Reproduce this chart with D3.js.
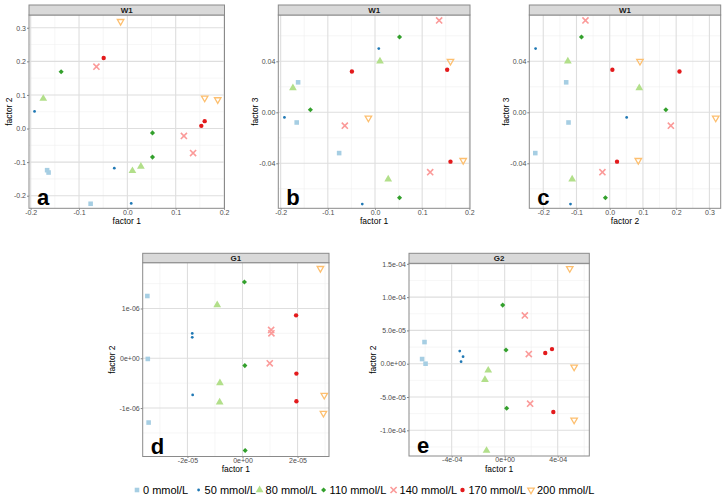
<!DOCTYPE html>
<html>
<head>
<meta charset="utf-8">
<script src="https://d3js.org/d3.v7.min.js"></script>
<style>
  body { margin: 0; background: #fff; }
  svg { font-family: "Liberation Sans", Arial, sans-serif; }
  .tick-label { font-size: 7px; fill: #4d4d4d; }
  .axis-title { font-size: 8.5px; fill: #000; }
  .strip-text { font-size: 8px; fill: #1a1a1a; font-weight: bold; }
  .panel-tag { font-size: 22px; font-weight: bold; fill: #000; }
  .legend-text { font-size: 11px; fill: #000; }
</style>
</head>
<body>
<div id="chart"></div>
<script>
const groups = ['0 mmol/L', '50 mmol/L', '80 mmol/L', '110 mmol/L', '140 mmol/L', '170 mmol/L', '200 mmol/L'];
const colors = ['#A6CEE3', '#1F78B4', '#B2DF8A', '#33A02C', '#FB9A99', '#E31A1C', '#FDBF6F'];
// three samples per group, in group order
const sampleGroup = [0,0,0, 1,1,1, 2,2,2, 3,3,3, 4,4,4, 5,5,5, 6,6,6];

const w1F1 = [-0.163, -0.166, -0.076,  -0.192, -0.027, 0.008,  -0.174, 0.0105, 0.028,
              -0.137, 0.052, 0.052,  -0.064, 0.117, 0.136,  -0.049, 0.153, 0.160,  -0.014, 0.160, 0.187];
const w1F2 = [-0.131, -0.124, -0.224,  0.051, -0.118, -0.223,  0.089, -0.126, -0.113,
              0.169, -0.013, -0.085,  0.184, -0.022, -0.073,  0.210, 0.008, 0.022,  0.319, 0.091, 0.086];
const w1F3 = [0.0235, -0.008, -0.032,  -0.004, -0.072, 0.050,  0.019, 0.040, -0.0525,
              0.002, -0.067, 0.059,  -0.0105, -0.047, 0.072,  0.032, 0.0334, -0.0387,  -0.0045, 0.040, -0.0377];

const g1F1 = [-3.456e-5, -3.44e-5, -3.41e-5,  -1.825e-5, -1.825e-5, -1.81e-5,  -0.918e-5, -0.82e-5, -0.83e-5,
              0.07e-5, 0.085e-5, 0.097e-5,  1.04e-5, 1.05e-5, 0.99e-5,  1.946e-5, 1.958e-5, 1.958e-5,  2.83e-5, 2.97e-5, 2.94e-5];
const g1F2 = [1.251e-6, -0.013e-6, -1.291e-6,  0.50e-6, 0.42e-6, -0.736e-6,  1.07e-6, -0.495e-6, -0.883e-6,
              1.532e-6, -0.147e-6, -1.853e-6,  0.569e-6, 0.502e-6, -0.10e-6,  0.863e-6, -0.308e-6, -0.863e-6,  1.806e-6, -0.742e-6, -1.104e-6];

const g2F1 = [-6.05e-4, -6.23e-4, -5.97e-4,  -3.39e-4, -3.14e-4, -3.29e-4,  -1.24e-4, -1.49e-4, -1.37e-4,
              -0.15e-4, 0.10e-4, 0.15e-4,  1.52e-4, 1.82e-4, 1.92e-4,  3.06e-4, 3.57e-4, 3.67e-4,  4.91e-4, 5.24e-4, 5.24e-4];
const g2F2 = [3.25e-5, 0.7e-5, 0.0,  1.9e-5, 1.05e-5, 0.3e-5,  -1.0e-5, -2.4e-5, -13.05e-5,
              8.8e-5, 2.05e-5, -6.7e-5,  7.25e-5, 1.45e-5, -6.0e-5,  1.6e-5, 2.2e-5, -7.25e-5,  14.3e-5, -0.5e-5, -8.45e-5];

const ticksW1F1 = [-0.2, -0.1, 0.0, 0.1, 0.2];
const ticksW1F2y = [-0.2, -0.1, 0.0, 0.1, 0.2, 0.3];
const ticksW1F2x = [-0.2, -0.1, 0.0, 0.1, 0.2, 0.3];
const ticksW1F3 = [-0.04, 0.00, 0.04];
const ticksG1F1 = [-2e-5, 0, 2e-5];
const labelsG1F1 = ['-2e-05', '0e+00', '2e-05'];
const ticksG1F2 = [-1e-6, 0, 1e-6];
const labelsG1F2 = ['-1e-06', '0e+00', '1e-06'];
const ticksG2F1 = [-4e-4, 0, 4e-4];
const labelsG2F1 = ['-4e-04', '0e+00', '4e-04'];
const ticksG2F2 = [-1e-4, -5e-5, 0, 5e-5, 1e-4, 1.5e-4];
const labelsG2F2 = ['-1.0e-04', '-5.0e-05', '0.0e+00', '5.0e-05', '1.0e-04', '1.5e-04'];

const svg = d3.select('#chart').append('svg')
  .attr('width', 726).attr('height', 498);

function symbolFor(g) {
  const s = [
    d3.symbol(d3.symbolSquare, 21),
    d3.symbol(d3.symbolCircle, 6),
    d3.symbol(d3.symbolTriangle, 26),
    d3.symbol(d3.symbolSquare, 13),
    d3.symbol(d3.symbolTimes, 26),
    d3.symbol(d3.symbolCircle, 15),
    d3.symbol(d3.symbolTriangle2, 30)
  ];
  return s[g]();
}
function markTransform(g, px, py) {
  let t = `translate(${px},${py})`;
  if (g === 3) t += ' rotate(45)';
  if (g === 6) t += ' rotate(180)';
  return t;
}
function styleMark(sel, g) {
  if (g === 4 || g === 6) {
    sel.attr('fill', 'none').attr('stroke', colors[g]).attr('stroke-width', g === 4 ? 1.6 : 1.3);
  } else {
    sel.attr('fill', colors[g]).attr('stroke', 'none');
  }
}

function minors(ticks) {
  const step = ticks[1] - ticks[0];
  const out = [];
  for (let i = -1; i < ticks.length; i++) out.push(ticks[0] + (i + 0.5) * step);
  return out;
}

function drawPanel(p) {
  const x = d3.scaleLinear().domain(p.xDomain).range([p.left, p.right]);
  const y = d3.scaleLinear().domain(p.yDomain).range([p.bottom, p.top]);
  const g = svg.append('g');

  g.append('rect').attr('x', p.left).attr('y', p.top)
    .attr('width', p.right - p.left).attr('height', p.bottom - p.top).attr('fill', '#fff');

  const inX = v => x(v) > p.left && x(v) < p.right;
  const inY = v => y(v) > p.top && y(v) < p.bottom;

  g.selectAll('.mx').data(minors(p.xTicks).filter(inX)).enter().append('line')
    .attr('x1', d => x(d)).attr('x2', d => x(d)).attr('y1', p.top).attr('y2', p.bottom)
    .attr('stroke', '#f0f0f0').attr('stroke-width', 0.6);
  g.selectAll('.my').data(minors(p.yTicks).filter(inY)).enter().append('line')
    .attr('y1', d => y(d)).attr('y2', d => y(d)).attr('x1', p.left).attr('x2', p.right)
    .attr('stroke', '#f0f0f0').attr('stroke-width', 0.6);
  g.selectAll('.gx').data(p.xTicks.filter(inX)).enter().append('line')
    .attr('x1', d => x(d)).attr('x2', d => x(d)).attr('y1', p.top).attr('y2', p.bottom)
    .attr('stroke', '#dedede').attr('stroke-width', 1.1);
  g.selectAll('.gy').data(p.yTicks.filter(inY)).enter().append('line')
    .attr('y1', d => y(d)).attr('y2', d => y(d)).attr('x1', p.left).attr('x2', p.right)
    .attr('stroke', '#dedede').attr('stroke-width', 1.1);

  // axes
  const xAxis = d3.axisBottom(x).tickValues(p.xTicks).tickSize(1.5).tickPadding(0)
    .tickFormat((d, i) => p.xLabels ? p.xLabels[i] : d3.format('.1f')(d));
  const yAxis = d3.axisLeft(y).tickValues(p.yTicks).tickSize(2).tickPadding(1)
    .tickFormat((d, i) => p.yLabels ? p.yLabels[i] : d3.format(p.yFmt)(d));
  const gx = g.append('g').attr('transform', `translate(0,${p.bottom})`).call(xAxis);
  const gy = g.append('g').attr('transform', `translate(${p.left},0)`).call(yAxis);
  [gx, gy].forEach(a => {
    a.select('.domain').remove();
    a.selectAll('line').attr('stroke', '#333').attr('stroke-width', 0.6);
    a.selectAll('text').attr('class', 'tick-label').attr('font-family', null).attr('font-size', null).attr('fill', null)
      .text(function() { return this.textContent.replace('−', '-'); });
  });

  // points
  p.xs.forEach((xv, i) => {
    const grp = sampleGroup[i];
    const m = g.append('path').attr('d', symbolFor(grp))
      .attr('transform', markTransform(grp, x(xv), y(p.ys[i])));
    styleMark(m, grp);
  });

  // border & strip
  g.append('rect').attr('x', p.left).attr('y', p.top)
    .attr('width', p.right - p.left).attr('height', p.bottom - p.top)
    .attr('fill', 'none').attr('stroke', '#8a8a8a').attr('stroke-width', 1);
  g.append('rect').attr('x', p.left).attr('y', p.stripTop)
    .attr('width', p.right - p.left).attr('height', p.top - p.stripTop)
    .attr('fill', '#d9d9d9').attr('stroke', '#8a8a8a').attr('stroke-width', 1);
  g.append('text').attr('class', 'strip-text')
    .attr('x', (p.left + p.right) / 2).attr('y', (p.top + p.stripTop) / 2 + 3)
    .attr('text-anchor', 'middle').text(p.strip);

  g.append('text').attr('class', 'panel-tag')
    .attr('x', p.left + 8).attr('y', p.bottom - 3).text(p.tag);

  g.append('text').attr('class', 'axis-title')
    .attr('x', (p.left + p.right) / 2).attr('y', p.xTitleY).attr('text-anchor', 'middle').text(p.xTitle);
  g.append('text').attr('class', 'axis-title')
    .attr('transform', `translate(${p.yTitleX},${(p.top + p.bottom) / 2}) rotate(-90)`)
    .attr('text-anchor', 'middle').attr('dy', '0.35em').text(p.yTitle);
}

drawPanel({ tag: 'a', strip: 'W1', left: 29, right: 224.5, stripTop: 5, top: 15, bottom: 208.3,
  xDomain: [-0.2035, 0.201], yDomain: [-0.2375, 0.338],
  xTicks: ticksW1F1, yTicks: ticksW1F2y, yFmt: '.1f',
  xs: w1F1, ys: w1F2, xTitle: 'factor 1', yTitle: 'factor 2', xTitleY: 223.5, yTitleX: 9 });

drawPanel({ tag: 'b', strip: 'W1', left: 278.3, right: 470, stripTop: 5, top: 15, bottom: 208.3,
  xDomain: [-0.205, 0.2014], yDomain: [-0.0753, 0.0763],
  xTicks: ticksW1F1, yTicks: ticksW1F3, yFmt: '.2f',
  xs: w1F1, ys: w1F3, xTitle: 'factor 1', yTitle: 'factor 3', xTitleY: 223.5, yTitleX: 255 });

drawPanel({ tag: 'c', strip: 'W1', left: 529.3, right: 720.7, stripTop: 5, top: 15, bottom: 208.3,
  xDomain: [-0.242, 0.334], yDomain: [-0.0753, 0.0763],
  xTicks: ticksW1F2x, yTicks: ticksW1F3, yFmt: '.2f',
  xs: w1F2, ys: w1F3, xTitle: 'factor 2', yTitle: 'factor 3', xTitleY: 223.5, yTitleX: 505.7 });

drawPanel({ tag: 'd', strip: 'G1', left: 142.7, right: 329, stripTop: 253.3, top: 262.7, bottom: 456.5,
  xDomain: [-3.625e-5, 3.142e-5], yDomain: [-1.973e-6, 1.92e-6],
  xTicks: ticksG1F1, yTicks: ticksG1F2, xLabels: labelsG1F1, yLabels: labelsG1F2,
  xs: g1F1, ys: g1F2, xTitle: 'factor 1', yTitle: 'factor 2', xTitleY: 471.5, yTitleX: 112 });

drawPanel({ tag: 'e', strip: 'G2', left: 409, right: 589.3, stripTop: 253.3, top: 263.3, bottom: 456,
  xDomain: [-7.22e-4, 6.385e-4], yDomain: [-13.86e-5, 15.08e-5],
  xTicks: ticksG2F1, yTicks: ticksG2F2, xLabels: labelsG2F1, yLabels: labelsG2F2,
  xs: g2F1, ys: g2F2, xTitle: 'factor 1', yTitle: 'factor 2', xTitleY: 471.5, yTitleX: 373 });

// legend
const legendX = [137, 198.6, 259.6, 323.6, 393.6, 462.5, 531];
const lg = svg.append('g');
groups.forEach((name, i) => {
  const m = lg.append('path').attr('d', symbolFor(i))
    .attr('transform', markTransform(i, legendX[i], 490));
  styleMark(m, i);
  lg.append('text').attr('class', 'legend-text')
    .attr('x', legendX[i] + 6).attr('y', 494).text(name);
});
</script>
</body>
</html>
